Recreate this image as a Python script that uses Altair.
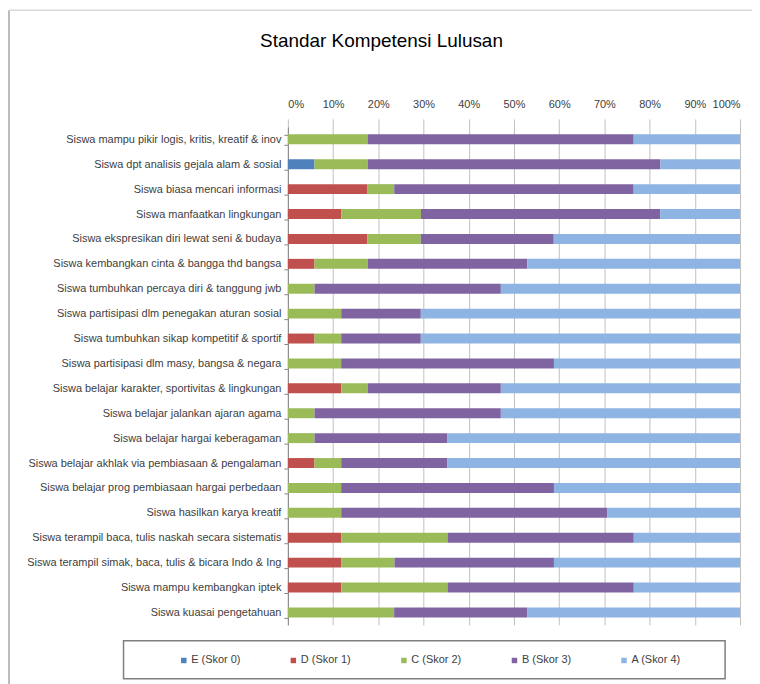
import altair as alt
import pandas as pd

categories = [
    "Siswa mampu pikir logis, kritis, kreatif & inov",
    "Siswa dpt analisis gejala alam & sosial",
    "Siswa biasa mencari informasi",
    "Siswa manfaatkan lingkungan",
    "Siswa ekspresikan diri lewat seni & budaya",
    "Siswa kembangkan cinta & bangga thd bangsa",
    "Siswa tumbuhkan percaya diri & tanggung jwb",
    "Siswa partisipasi dlm penegakan aturan sosial",
    "Siswa tumbuhkan sikap kompetitif & sportif",
    "Siswa partisipasi dlm masy, bangsa & negara",
    "Siswa belajar  karakter, sportivitas & lingkungan",
    "Siswa belajar jalankan ajaran agama",
    "Siswa belajar hargai keberagaman",
    "Siswa belajar akhlak via pembiasaan & pengalaman",
    "Siswa belajar prog pembiasaan hargai perbedaan",
    "Siswa hasilkan karya kreatif",
    "Siswa terampil baca, tulis naskah secara sistematis",
    "Siswa terampil simak, baca, tulis & bicara Indo & Ing",
    "Siswa mampu kembangkan iptek",
    "Siswa kuasai pengetahuan",
]

series = ["E (Skor 0)", "D (Skor 1)", "C (Skor 2)", "B (Skor 3)", "A (Skor 4)"]
colors = ["#4F81BD", "#C0504D", "#9BBB59", "#8064A2", "#8DB4E2"]

# percentages
E = [0, 5.9, 0, 0, 0, 0, 0, 0, 0, 0, 0, 0, 0, 0, 0, 0, 0, 0, 0, 0]
D = [0, 0, 17.6, 11.8, 17.6, 5.9, 0, 0, 5.9, 0, 11.8, 0, 0, 5.9, 0, 0, 11.8, 11.8, 11.8, 0]
C = [17.6, 11.8, 5.9, 17.6, 11.8, 11.8, 5.9, 11.8, 5.9, 11.8, 5.9, 5.9, 5.9, 5.9, 11.8, 11.8, 23.5, 11.8, 23.5, 23.5]
B = [58.8, 64.7, 52.9, 52.9, 29.4, 35.3, 41.2, 17.6, 17.6, 47.1, 29.4, 41.2, 29.4, 23.5, 47.1, 58.8, 41.2, 35.3, 41.2, 29.4]
A = [23.5, 17.6, 23.5, 17.6, 41.2, 47.1, 52.9, 70.6, 70.6, 41.2, 52.9, 52.9, 64.7, 64.7, 41.2, 29.4, 23.5, 41.2, 23.5, 47.1]

rows = []
for si, (name, vals) in enumerate(zip(series, [E, D, C, B, A])):
    for cat, v in zip(categories, vals):
        rows.append({"cat": cat, "series": name, "value": v, "ord": si})
df = pd.DataFrame(rows)

FONT = "Liberation Sans"

bars = alt.Chart(df).mark_bar().encode(
    y=alt.Y("cat:N", sort=categories, title=None,
            scale=alt.Scale(paddingInner=0.6, paddingOuter=0.3),
            axis=alt.Axis(tickBand="extent", tickSize=4, tickColor="#868686",
                          domainColor="#868686", labelPadding=3, labelLimit=400,
                          labelFontSize=11, labelColor="#404040", labelFont=FONT,
                          grid=False)),
    x=alt.X("value:Q", stack="normalize", title=None,
            scale=alt.Scale(domain=[0, 1], nice=False),
            axis=alt.Axis(orient="top", values=[i / 10 for i in range(11)], format=".0%",
                          domain=False, tickSize=8, tickColor="#bfbfbf",
                          labelPadding=9, labelFontSize=11, labelColor="#404040",
                          labelFont=FONT, grid=True, gridColor="#bfbfbf")),
    color=alt.Color("series:N", sort=series,
                    scale=alt.Scale(domain=series, range=colors),
                    legend=alt.Legend(title=None, orient="none", direction="horizontal",
                                      legendX=-110, legendY=530, symbolType="square",
                                      symbolSize=30, symbolStrokeWidth=0, labelOffset=2,
                                      columnPadding=47, labelFontSize=11, labelFont=FONT,
                                      labelColor="#404040", padding=0)),
    order=alt.Order("ord:Q"),
)

one = alt.Data(values=[{}])
legend_box = alt.Chart(one).mark_rect(fillOpacity=0, stroke="#7f7f7f", strokeWidth=1.5).encode(
    x=alt.value(-165), x2=alt.value(439), y=alt.value(516), y2=alt.value(554))
frame_left = alt.Chart(one).mark_rule(color="#a6a6a6", strokeWidth=1.5).encode(
    x=alt.value(-280), y=alt.value(-117), y2=alt.value(562))
frame_top = alt.Chart(one).mark_rule(color="#d9d9d9", strokeWidth=1.5).encode(
    x=alt.value(-280), x2=alt.value(470), y=alt.value(-117))

chart = alt.layer(bars, legend_box, frame_left, frame_top).properties(
    width=454, height=500,
    title=alt.TitleParams("Standar Kompetensi Lulusan", anchor="middle", frame="group",
                          dx=-133, dy=50, offset=8, fontSize=19, font=FONT,
                          fontWeight="normal", color="#000000"),
    autosize=alt.AutoSizeParams(type="none"),
    padding={"left": 281, "top": 118, "right": 12, "bottom": 60},
).configure_view(stroke=None)

chart.save("out.html", embed_options={"renderer": "svg", "actions": False})
